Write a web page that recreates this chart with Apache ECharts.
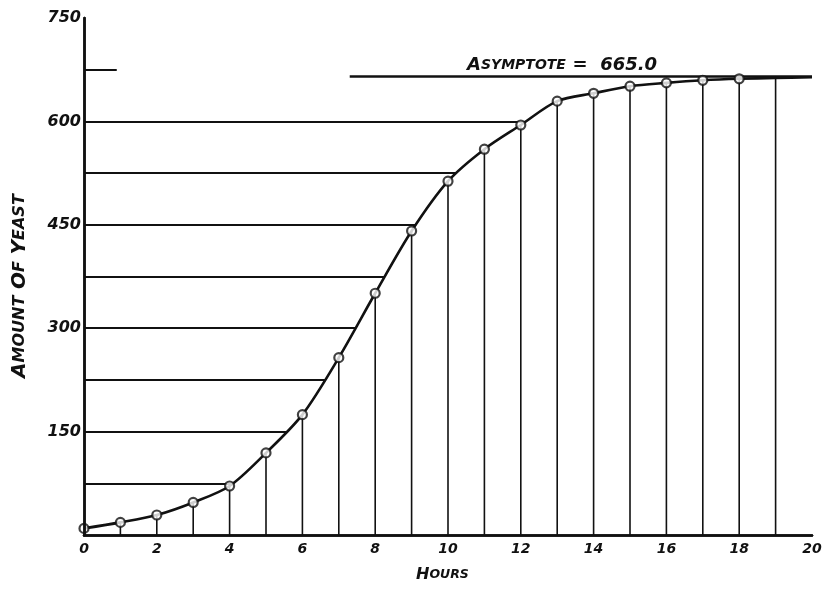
<!DOCTYPE html>
<html>
<head>
<meta charset="utf-8">
<script src="https://cdn.jsdelivr.net/npm/echarts@6/dist/echarts.min.js"></script>
<style>
  html, body { margin: 0; padding: 0; background: #fff; }
  #chart { width: 829px; height: 592px; }
</style>
</head>
<body>
<div id="chart"></div>
<script>
// Yeast growth in culture: observed amounts by hour
const hours = [0, 1, 2, 3, 4, 5, 6, 7, 8, 9, 10, 11, 12, 13, 14, 15, 16, 17, 18];
const yeast = [9.6, 18.3, 29.0, 47.2, 71.1, 119.1, 174.6, 257.3, 350.7, 441.0, 513.3, 559.7, 594.8, 629.4, 640.8, 651.1, 655.9, 659.6, 661.8];
// fitted curve continues past the last observation
const tailHours = [19, 20];
const tailYeast = [663.0, 664.0];

const asymptote = 665.0;
const asymptoteStart = 7.3;
const ruleLevels = [75, 150, 225, 300, 375, 450, 525, 600];
const stubLevel = 675;
const stubEnd = 0.9;

const xTicks = [0, 2, 4, 6, 8, 10, 12, 14, 16, 18, 20];
const yTicks = [0, 150, 300, 450, 600, 750];

const curve = hours.map((h, i) => [h, yeast[i]]).concat(tailHours.map((h, i) => [h, tailYeast[i]]));
const points = hours.map((h, i) => [h, yeast[i]]);
const drops = curve.filter(p => p[0] > 0 && p[0] < 20);

const INK = '#111';
const FONT = '"DejaVu Sans"';
const SMOOTH = 0.3;

const chart = echarts.init(document.getElementById('chart'), null, { renderer: 'canvas' });

const labelStyle = {
  color: INK, fontFamily: FONT, fontStyle: 'italic', fontWeight: 'bold', fontSize: 14
};

function smallCaps(big, small) {
  const base = { fontFamily: FONT, fontStyle: 'italic', fontWeight: 'bold', fill: INK, color: INK };
  return { big: { ...base, fontSize: big }, sm: { ...base, fontSize: small } };
}

chart.setOption({
  animation: false,
  backgroundColor: '#fff',
  grid: { left: 84, right: 17, top: 18, bottom: 57 },
  xAxis: [{
    type: 'value', min: xTicks[0], max: xTicks[xTicks.length - 1], interval: 2, z: 10,
    axisLine: { show: true, onZero: false, lineStyle: { color: INK, width: 2.5 } },
    axisTick: { show: false },
    splitLine: { show: false },
    axisLabel: { margin: 7, ...labelStyle, fontSize: 14 }
  }, {
    type: 'value', position: 'top', min: 0, max: 20, z: 10,
    axisLine: { show: true, lineStyle: { color: INK, width: 2.5 } },
    axisTick: { show: false }, axisLabel: { show: false }, splitLine: { show: false }
  }],
  yAxis: [{
    type: 'value', min: yTicks[0], max: yTicks[yTicks.length - 1], interval: 150, z: 10,
    axisLine: { show: true, onZero: false, lineStyle: { color: INK, width: 2.5 } },
    axisTick: { show: false },
    splitLine: { show: false },
    axisLabel: { margin: 3, ...labelStyle, fontSize: 16, formatter: v => (v === 0 ? '' : String(v)) }
  }, {
    type: 'value', position: 'right', min: 0, max: 750, z: 10,
    axisLine: { show: true, lineStyle: { color: INK, width: 2.5 } },
    axisTick: { show: false }, axisLabel: { show: false }, splitLine: { show: false }
  }],
  series: [
    {
      // horizontal rules behind the curve
      type: 'line', data: [], z: 1, silent: true,
      markLine: {
        z: 1, silent: true, symbol: 'none', animation: false,
        lineStyle: { color: INK, width: 2, type: 'solid' },
        label: { show: false },
        data: ruleLevels.map(v => [{ coord: [0, v] }, { coord: [20, v] }])
          .concat([[{ coord: [0, stubLevel] }, { coord: [stubEnd, stubLevel] }]])
      }
    },
    {
      // region under the curve stays clear of horizontal rules
      type: 'line', data: curve, smooth: SMOOTH, z: 2, silent: true,
      showSymbol: false, lineStyle: { width: 0, color: '#fff' },
      areaStyle: { color: '#fff', opacity: 1 }
    },
    {
      // vertical drop lines at each hour
      type: 'bar', data: drops, barWidth: 1.6, z: 3, silent: true,
      itemStyle: { color: INK }
    },
    {
      type: 'line', data: curve, smooth: SMOOTH, z: 4, silent: true,
      showSymbol: false, lineStyle: { color: INK, width: 2.6 },
      markLine: {
        z: 4, silent: true, symbol: 'none', animation: false,
        lineStyle: { color: INK, width: 2.5, type: 'solid' },
        label: { show: false },
        data: [[{ coord: [asymptoteStart, asymptote] }, { coord: [20, asymptote] }]]
      }
    },
    {
      type: 'scatter', data: points, z: 5, silent: true,
      symbol: 'circle', symbolSize: 9,
      itemStyle: { color: '#fff', borderColor: INK, borderWidth: 2.2 }
    }
  ],
  graphic: [
    {
      type: 'text', left: 467, top: 56, z: 20,
      style: { text: '{big|A}{sm|SYMPTOTE}  {big|=  665.0}', rich: smallCaps(18, 14) }
    },
    {
      type: 'text', left: 416, top: 567, z: 20,
      style: { text: '{big|H}{sm|OURS}', rich: smallCaps(16, 12.5) }
    },
    {
      type: 'text', x: 10, y: 378, rotation: Math.PI / 2, z: 20,
      style: {
        text: '{big|A}{sm|MOUNT}  {big|O}{sm|F}  {big|Y}{sm|EAST}', rich: smallCaps(20, 16),
        verticalAlign: 'top', align: 'left'
      }
    }
  ]
});
</script>
</body>
</html>
